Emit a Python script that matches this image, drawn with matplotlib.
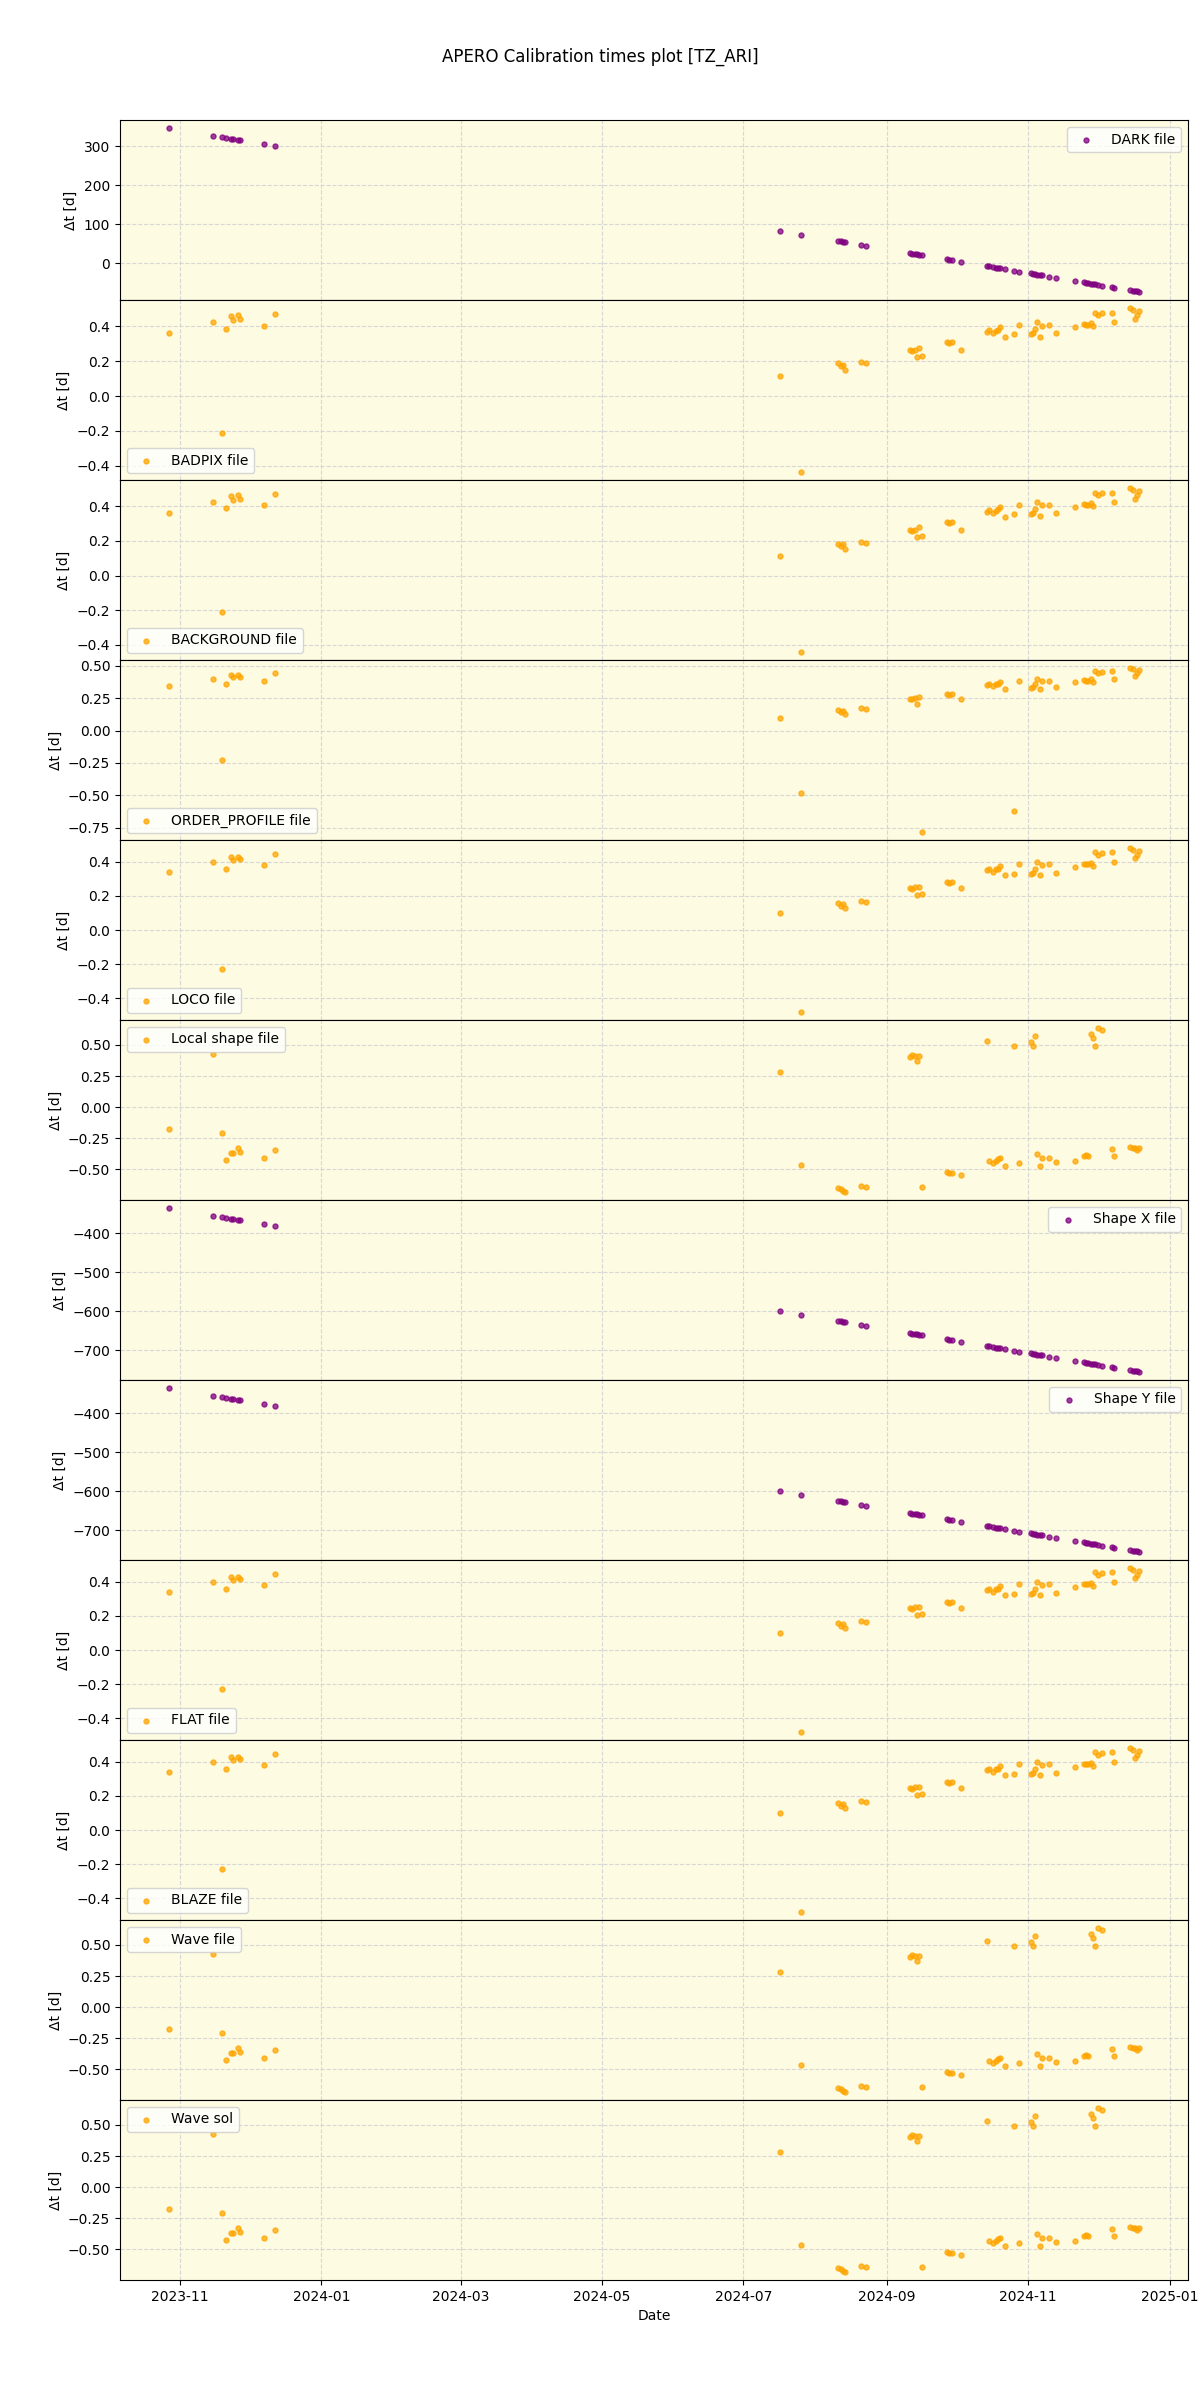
import matplotlib
matplotlib.use("Agg")
import matplotlib.pyplot as plt
import matplotlib.dates as mdates
import pandas as pd

# observation dates (shared by every calibration panel)
obs_dates = [
    "2023-10-27", "2023-11-15", "2023-11-19", "2023-11-21", "2023-11-23",
    "2023-11-24", "2023-11-26", "2023-11-27", "2023-12-07", "2023-12-12",
    "2024-07-17", "2024-07-26",
    "2024-08-11", "2024-08-12", "2024-08-13", "2024-08-14",
    "2024-08-21", "2024-08-23",
    "2024-09-11", "2024-09-12", "2024-09-13", "2024-09-14", "2024-09-15", "2024-09-16",
    "2024-09-27", "2024-09-28", "2024-09-29", "2024-10-03",
    "2024-10-14", "2024-10-15", "2024-10-17", "2024-10-18", "2024-10-19", "2024-10-20", "2024-10-22",
    "2024-10-26", "2024-10-28",
    "2024-11-02", "2024-11-03", "2024-11-04", "2024-11-05", "2024-11-06", "2024-11-07",
    "2024-11-10", "2024-11-13",
    "2024-11-21",
    "2024-11-25", "2024-11-26", "2024-11-27", "2024-11-28", "2024-11-29", "2024-11-30",
    "2024-12-01", "2024-12-03",
    "2024-12-07", "2024-12-08",
    "2024-12-15", "2024-12-16", "2024-12-17", "2024-12-18", "2024-12-19",
]

dark_dt = [
    346, 327, 323, 321, 319, 318, 316, 315, 305, 300,
    82, 73,
    57, 56, 55, 54,
    47, 45,
    26, 25, 24, 23, 22, 21,
    10, 9, 8, 4,
    -7, -8, -10, -11, -12, -13, -15,
    -19, -21,
    -26, -27, -28, -29, -30, -31, -34, -37,
    -45,
    -49, -50, -51, -52, -53, -54, -55, -57,
    -61, -62,
    -69, -70, -71, -72, -73,
]

badpix_dt = [
    0.36, 0.425, -0.21, 0.385, 0.46, 0.435, 0.465, 0.44, 0.40, 0.47,
    0.115, -0.435,
    0.19, 0.17, 0.18, 0.15,
    0.195, 0.19,
    0.265, 0.26, 0.265, 0.225, 0.275, 0.23,
    0.31, 0.305, 0.31, 0.265,
    0.37, 0.38, 0.36, 0.375, 0.38, 0.395, 0.34,
    0.355, 0.41,
    0.355, 0.36, 0.385, 0.425, 0.34, 0.405, 0.41, 0.36,
    0.395,
    0.415, 0.41, 0.41, 0.42, 0.40, 0.48, 0.465, 0.475,
    0.48, 0.425,
    0.505, 0.495, 0.445, 0.465, 0.49,
]

background_dt = [
    0.36, 0.425, -0.21, 0.39, 0.46, 0.435, 0.465, 0.44, 0.405, 0.47,
    0.115, -0.44,
    0.185, 0.17, 0.18, 0.155,
    0.195, 0.19,
    0.265, 0.26, 0.265, 0.225, 0.28, 0.23,
    0.31, 0.305, 0.31, 0.265,
    0.37, 0.38, 0.36, 0.375, 0.385, 0.395, 0.34,
    0.355, 0.41,
    0.355, 0.36, 0.385, 0.425, 0.345, 0.405, 0.41, 0.36,
    0.395,
    0.415, 0.41, 0.41, 0.42, 0.40, 0.48, 0.465, 0.475,
    0.48, 0.425,
    0.505, 0.495, 0.445, 0.465, 0.49,
]

order_profile_dt = [
    0.34, 0.40, -0.23, 0.36, 0.43, 0.41, 0.43, 0.415, 0.38, 0.445,
    0.10, -0.48,
    0.16, 0.14, 0.15, 0.13,
    0.17, 0.165,
    0.245, 0.24, 0.25, 0.205, 0.255, -0.78,
    0.28, 0.275, 0.28, 0.245,
    0.35, 0.36, 0.34, 0.355, 0.36, 0.375, 0.32,
    -0.62, 0.385,
    0.33, 0.335, 0.36, 0.40, 0.32, 0.38, 0.385, 0.335,
    0.37,
    0.39, 0.385, 0.385, 0.395, 0.375, 0.455, 0.44, 0.45,
    0.455, 0.40,
    0.48, 0.47, 0.42, 0.44, 0.465,
]

loco_dt = [
    0.34, 0.40, -0.23, 0.36, 0.43, 0.41, 0.43, 0.415, 0.38, 0.445,
    0.10, -0.48,
    0.16, 0.14, 0.15, 0.13,
    0.17, 0.165,
    0.245, 0.24, 0.25, 0.205, 0.255, 0.21,
    0.28, 0.275, 0.28, 0.245,
    0.35, 0.36, 0.34, 0.355, 0.36, 0.375, 0.32,
    0.33, 0.385,
    0.33, 0.335, 0.36, 0.40, 0.32, 0.38, 0.385, 0.335,
    0.37,
    0.39, 0.385, 0.385, 0.395, 0.375, 0.455, 0.44, 0.45,
    0.455, 0.40,
    0.48, 0.47, 0.42, 0.44, 0.465,
]

local_shape_dt = [
    -0.175, 0.43, -0.205, -0.425, -0.37, -0.37, -0.33, -0.36, -0.405, -0.345,
    0.28, -0.465,
    -0.65, -0.66, -0.67, -0.68,
    -0.63, -0.64,
    0.40, 0.42, 0.41, 0.375, 0.415, -0.64,
    -0.52, -0.53, -0.525, -0.545,
    0.53, -0.43, -0.45, -0.43, -0.42, -0.405, -0.47,
    0.49, -0.45,
    0.52, 0.495, 0.575, -0.375, -0.475, -0.405, -0.405, -0.44,
    -0.43,
    -0.39, -0.385, -0.39, 0.585, 0.555, 0.49, 0.635, 0.62,
    -0.335, -0.39,
    -0.32, -0.325, -0.33, -0.345, -0.325,
]

shape_x_dt = [
    -336, -355, -359, -361, -363, -364, -366, -367, -377, -382,
    -600, -609,
    -625, -626, -627, -628,
    -635, -637,
    -656, -657, -658, -659, -660, -661,
    -672, -673, -674, -678,
    -689, -690, -692, -693, -694, -695, -697,
    -701, -703,
    -708, -709, -710, -711, -712, -713, -716, -719,
    -727,
    -731, -732, -733, -734, -735, -736, -737, -739,
    -743, -744,
    -751, -752, -753, -754, -755,
]

shape_y_dt = list(shape_x_dt)
flat_dt = list(loco_dt)
blaze_dt = list(loco_dt)
wave_file_dt = list(local_shape_dt)
wave_sol_dt = list(local_shape_dt)

panels = [
    ("DARK file", dark_dt, "purple", "upper right"),
    ("BADPIX file", badpix_dt, "orange", "lower left"),
    ("BACKGROUND file", background_dt, "orange", "lower left"),
    ("ORDER_PROFILE file", order_profile_dt, "orange", "lower left"),
    ("LOCO file", loco_dt, "orange", "lower left"),
    ("Local shape file", local_shape_dt, "orange", "upper left"),
    ("Shape X file", shape_x_dt, "purple", "upper right"),
    ("Shape Y file", shape_y_dt, "purple", "upper right"),
    ("FLAT file", flat_dt, "orange", "lower left"),
    ("BLAZE file", blaze_dt, "orange", "lower left"),
    ("Wave file", wave_file_dt, "orange", "upper left"),
    ("Wave sol", wave_sol_dt, "orange", "upper left"),
]

dates = pd.to_datetime(obs_dates)

fig, axes = plt.subplots(len(panels), 1, figsize=(12, 24), dpi=100, sharex=True)
fig.subplots_adjust(left=0.1, right=0.99, top=0.95, bottom=0.05, hspace=0)

for ax, (label, values, color, loc) in zip(axes, panels):
    ax.set_facecolor("#fdfbe2")
    ax.scatter(dates, values, s=13, color=color, alpha=0.75, label=label, zorder=3)
    ax.grid(True, linestyle="--", color="lightgray", alpha=0.9, zorder=0)
    ax.set_ylabel("Δt [d]")
    ax.legend(loc=loc)

axes[-1].xaxis.set_major_locator(mdates.MonthLocator(bymonth=[1, 3, 5, 7, 9, 11]))
axes[-1].xaxis.set_major_formatter(mdates.DateFormatter("%Y-%m"))
axes[-1].set_xlabel("Date")

fig.suptitle("APERO Calibration times plot [TZ_ARI]", y=0.980)
fig.savefig("out.png")
